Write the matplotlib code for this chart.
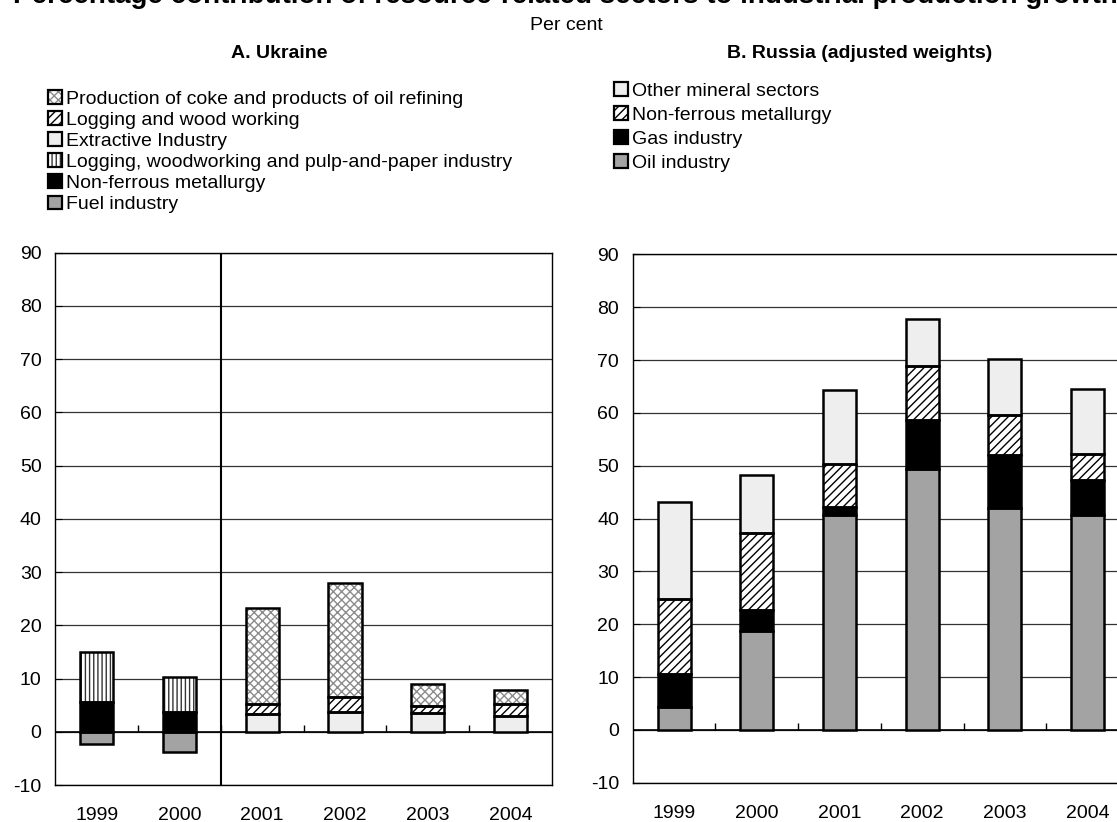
import numpy as np
import matplotlib.pyplot as plt
from matplotlib.patches import Patch

plt.rcParams['font.family'] = ['Liberation Sans', 'DejaVu Sans']
plt.rcParams['hatch.linewidth'] = 1.0
plt.rcParams['axes.unicode_minus'] = False

# --- Data (per cent) ---
years = ['1999', '2000', '2001', '2002', '2003', '2004']

# Ukraine, stacked bottom to top
ua_fuel = [-2.3, -3.75, 0, 0, 0, 0]
ua_nonferrous = [5.6, 3.75, 0, 0, 0, 0]
ua_pulp_paper = [9.3, 6.45, 0, 0, 0, 0]
ua_extractive = [0, 0, 3.4, 3.75, 3.55, 2.95]
ua_logging = [0, 0, 1.9, 2.8, 1.3, 2.25]
ua_coke = [0, 0, 18.0, 21.45, 4.2, 2.7]

# Russia (adjusted weights), stacked bottom to top
ru_oil = [4.3, 18.7, 40.6, 49.4, 41.9, 40.6]
ru_gas = [6.3, 4.05, 1.5, 9.2, 10.2, 6.7]
ru_nonferrous = [14.2, 14.55, 8.3, 10.3, 7.5, 4.9]
ru_other = [18.3, 11.0, 13.9, 8.8, 10.5, 12.3]

# (face colour, hatch, hatch colour)
GREY = ('#a3a3a3', '', 'none')
BLACK = ('black', '', 'none')
LIGHT = ('#eeeeee', '', 'none')
DIAG = ('white', '////', 'black')
VERT = ('white', '||||', '#333333')
CROSS = ('white', 'xxxx', '#8c8c8c')

FS = 14


def draw_stack(ax, series, labels, styles):
    x = np.arange(len(years))
    pos = np.zeros(len(years))
    neg = np.zeros(len(years))
    handles = []
    for vals, (face, hatch, hcol) in zip(series, styles):
        vals = np.array(vals, dtype=float)
        bottom = np.where(vals >= 0, pos, neg)
        keep = vals != 0
        ax.bar(x[keep], vals[keep], 0.4, bottom=bottom[keep], color=face,
               hatch=hatch, edgecolor=hcol, linewidth=0, zorder=3)
        ax.bar(x[keep], vals[keep], 0.4, bottom=bottom[keep], fill=False,
               edgecolor='black', linewidth=1.8, zorder=4)
        pos += np.where(vals > 0, vals, 0)
        neg += np.where(vals < 0, vals, 0)
        handles.append((Patch(facecolor=face, hatch=hatch, edgecolor=hcol, linewidth=0),
                        Patch(fill=False, edgecolor='black', linewidth=1.6)))
    return handles[::-1], labels[::-1]


def style_axis(ax):
    x = np.arange(len(years))
    ax.set_xlim(-0.5, len(years) - 0.5)
    ax.set_ylim(-10, 90)
    ax.set_yticks(range(-10, 91, 10))
    ax.set_xticks(x)
    ax.set_xticklabels(years)
    ax.set_axisbelow(True)
    ax.yaxis.grid(True, color='#333333', linewidth=0.9)
    ax.axhline(0, color='black', linewidth=1.2, zorder=2)
    # small category marks on the zero line
    ax.vlines(x[:-1] + 0.5, 0, 1.3, color='black', linewidth=1, zorder=2)
    ax.tick_params(axis='x', length=0, pad=16, labelsize=FS)
    ax.tick_params(axis='y', direction='in', length=5, pad=10, labelsize=FS)
    for s in ax.spines.values():
        s.set_linewidth(1.0)
        s.set_color('black')


fig = plt.figure(figsize=(11.17, 8.22), dpi=100)

# --- Panel A: Ukraine ---
ax1 = fig.add_axes([0.0496, 0.0450, 0.4444, 0.6476])
style_axis(ax1)
ax1.axvline(1.5, color='black', linewidth=1.5, zorder=5)
h1, l1 = draw_stack(
    ax1,
    [ua_fuel, ua_nonferrous, ua_pulp_paper, ua_extractive, ua_logging, ua_coke],
    ['Fuel industry', 'Non-ferrous metallurgy',
     'Logging, woodworking and pulp-and-paper industry', 'Extractive Industry',
     'Logging and wood working', 'Production of coke and products of oil refining'],
    [GREY, BLACK, VERT, LIGHT, DIAG, CROSS])

# --- Panel B: Russia (extends past the right edge like the source) ---
ax2 = fig.add_axes([0.5665, 0.0478, 0.4442, 0.6428])
style_axis(ax2)
h2, l2 = draw_stack(
    ax2,
    [ru_oil, ru_gas, ru_nonferrous, ru_other],
    ['Oil industry', 'Gas industry', 'Non-ferrous metallurgy', 'Other mineral sectors'],
    [GREY, BLACK, DIAG, LIGHT])

leg_kw = dict(frameon=False, fontsize=FS, handlelength=0.7, handleheight=0.7,
              handletextpad=0.25, borderpad=0, borderaxespad=0)
fig.legend(h1, l1, loc='upper left', bbox_to_anchor=(48 / 1117, 1 - 90 / 822),
           labelspacing=0.18, **leg_kw)
fig.legend(h2, l2, loc='upper left', bbox_to_anchor=(614 / 1117, 1 - 82 / 822),
           labelspacing=0.33, **leg_kw)

# --- Titles (main title is clipped at the top edge, as in the source) ---
fig.text(565 / 1117, 1 - 3 / 822,
         'Percentage contribution of resource-related sectors to industrial production growth',
         ha='center', va='baseline', fontsize=20, fontweight='bold')
fig.text(566 / 1117, 1 - 26 / 822, 'Per cent', ha='center', va='center', fontsize=FS)
fig.text(279 / 1117, 1 - 53 / 822, 'A. Ukraine', ha='center', va='center',
         fontsize=FS, fontweight='bold')
fig.text(860 / 1117, 1 - 53 / 822, 'B. Russia (adjusted weights)', ha='center',
         va='center', fontsize=FS, fontweight='bold')

fig.savefig('out.png', dpi=100)
